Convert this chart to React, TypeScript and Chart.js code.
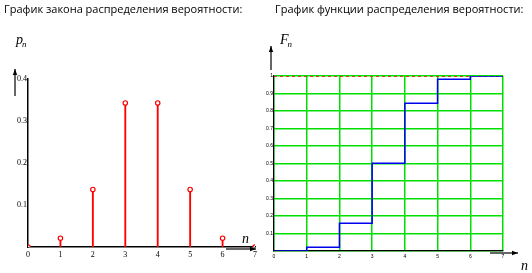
import React, { useEffect, useRef } from 'react';
import { Chart, registerables } from 'chart.js';

Chart.register(...registerables);

// ---- data ----
const nValues = [0, 1, 2, 3, 4, 5, 6, 7];
const xTickLabels = ['0', '1', '2', '3', '4', '5', '6', '7'];
const probabilities = [0, 0.021, 0.137, 0.343, 0.343, 0.137, 0.021, 0];
const cumulative = [0, 0.021, 0.158, 0.501, 0.844, 0.981, 1.0, 1.0];
const leftYTicks = [0.1, 0.2, 0.3, 0.4];
const leftYTickLabels = ['0.1', '0.2', '0.3', '0.4'];
const rightYTicks = [0, 0.1, 0.2, 0.3, 0.4, 0.5, 0.6, 0.7, 0.8, 0.9, 1];
const rightYTickLabels = ['', '0.1', '0.2', '0.3', '0.4', '0.5', '0.6', '0.7', '0.8', '0.9', '1'];
const leftTitle = 'График закона распределения вероятности:';
const rightTitle = 'График функции распределения вероятности:';

const GREEN = '#00e000';
const RED = '#ff0000';
const BLUE = '#0000ee';

function arrow(ctx: CanvasRenderingContext2D, x1: number, y1: number, x2: number, y2: number) {
  ctx.save();
  ctx.strokeStyle = '#000';
  ctx.fillStyle = '#000';
  ctx.lineWidth = 1.2;
  ctx.beginPath();
  ctx.moveTo(x1, y1);
  ctx.lineTo(x2, y2);
  ctx.stroke();
  const a = Math.atan2(y2 - y1, x2 - x1);
  const L = 6, W = 2.2;
  ctx.beginPath();
  ctx.moveTo(x2, y2);
  ctx.lineTo(x2 - L * Math.cos(a) + W * Math.sin(a), y2 - L * Math.sin(a) - W * Math.cos(a));
  ctx.lineTo(x2 - L * Math.cos(a) - W * Math.sin(a), y2 - L * Math.sin(a) + W * Math.cos(a));
  ctx.closePath();
  ctx.fill();
  ctx.restore();
}

function symbol(ctx: CanvasRenderingContext2D, main: string, sub: string, x: number, y: number) {
  ctx.save();
  ctx.fillStyle = '#000';
  ctx.textBaseline = 'alphabetic';
  ctx.font = 'italic 14px "Liberation Serif"';
  ctx.fillText(main, x, y);
  const w = ctx.measureText(main).width;
  if (sub) {
    ctx.font = 'italic 9px "Liberation Serif"';
    ctx.fillText(sub, x + w - 1, y + 3);
  }
  ctx.restore();
}

export default function App() {
  const leftRef = useRef<HTMLCanvasElement>(null);
  const rightRef = useRef<HTMLCanvasElement>(null);

  useEffect(() => {
    document.body.style.margin = '0';
    const leftDeco = {
      id: 'leftDeco',
      afterDraw(chart: any) {
        const ctx = chart.ctx;
        arrow(ctx, 15, 96, 15, 69);
        arrow(ctx, 226, 249, 256, 249);
        symbol(ctx, 'p', 'n', 16, 44);
        symbol(ctx, 'n', '', 242, 243);
      },
    };
    const rightDeco = {
      id: 'rightDeco',
      afterDraw(chart: any) {
        const ctx = chart.ctx;
        arrow(ctx, 5, 70, 5, 46);
        arrow(ctx, 224, 253, 252, 253);
        symbol(ctx, 'F', 'n', 14, 44);
        symbol(ctx, 'n', '', 255, 270);
      },
    };

    const left = new Chart(leftRef.current!, {
      type: 'scatter',
      data: {
        datasets: [
          {
            type: 'scatter',
            data: nValues.map((x, i) => ({ x, y: probabilities[i] })),
            pointStyle: 'circle',
            pointRadius: 2.2,
            pointBorderWidth: 1.2,
            pointBorderColor: RED,
            pointBackgroundColor: '#fff',
            order: 0,
          } as any,
          {
            type: 'bar',
            data: nValues.map((x, i) => ({ x, y: probabilities[i] })),
            backgroundColor: RED,
            barThickness: 1.2,
            order: 1,
          } as any,
        ],
      },
      options: {
        animation: false,
        responsive: false,
        events: [],
        layout: { padding: { left: 8, right: 11, top: 79, bottom: 6 } },
        plugins: { legend: { display: false }, tooltip: { enabled: false } },
        scales: {
          x: {
            type: 'linear',
            min: 0,
            max: 7,
            offset: false,
            grid: { display: false, offset: false, drawTicks: false },
            border: { display: true, color: '#000', width: 1.5 },
            afterFit: (s: any) => { s.height = 20; },
            afterBuildTicks: (s: any) => { s.ticks = nValues.map((v) => ({ value: v })); },
            ticks: {
              padding: 3,
              color: '#000',
              font: { family: '"Liberation Serif"', size: 8 },
              maxRotation: 0,
              autoSkip: false,
              callback: (_v: any, i: number) => xTickLabels[i],
            },
          },
          y: {
            type: 'linear',
            min: 0,
            max: 0.4,
            grid: { display: false, drawTicks: false },
            border: { display: true, color: '#000', width: 1.5 },
            afterFit: (s: any) => { s.width = 20; },
            afterBuildTicks: (s: any) => { s.ticks = leftYTicks.map((v) => ({ value: v })); },
            ticks: {
              padding: 1,
              color: '#000',
              font: { family: '"Liberation Serif"', size: 8 },
              autoSkip: false,
              callback: (_v: any, i: number) => leftYTickLabels[i],
            },
          },
        },
      } as any,
      plugins: [leftDeco],
    });

    const right = new Chart(rightRef.current!, {
      type: 'line',
      data: {
        datasets: [
          {
            data: [{ x: 0, y: 1 }, { x: 7, y: 1 }],
            borderColor: RED,
            borderWidth: 1.5,
            borderDash: [3, 3],
            pointRadius: 0,
            order: 1,
          },
          {
            data: nValues.map((x, i) => ({ x, y: cumulative[i] })),
            borderColor: BLUE,
            borderWidth: 1.5,
            stepped: true,
            pointRadius: 0,
            order: 0,
          },
        ],
      },
      options: {
        animation: false,
        responsive: false,
        events: [],
        layout: { padding: { left: 0, right: 29, top: 76, bottom: 6 } },
        plugins: { legend: { display: false }, tooltip: { enabled: false } },
        scales: {
          x: {
            type: 'linear',
            min: 0,
            max: 7,
            grid: { color: GREEN, lineWidth: 1.5, drawTicks: false },
            border: { display: true, color: '#000', width: 1.2 },
            afterFit: (s: any) => { s.height = 16; },
            afterBuildTicks: (s: any) => { s.ticks = nValues.map((v) => ({ value: v })); },
            ticks: {
              padding: 3,
              color: '#000',
              font: { family: '"Liberation Sans"', size: 5 },
              maxRotation: 0,
              autoSkip: false,
              callback: (_v: any, i: number) => xTickLabels[i],
            },
          },
          y: {
            type: 'linear',
            min: 0,
            max: 1,
            grid: { color: GREEN, lineWidth: 1.5, drawTicks: false },
            border: { display: true, color: '#000', width: 1.2 },
            afterFit: (s: any) => { s.width = 8; },
            afterBuildTicks: (s: any) => { s.ticks = rightYTicks.map((v) => ({ value: v })); },
            ticks: {
              padding: 1,
              color: '#000',
              font: { family: '"Liberation Sans"', size: 5 },
              autoSkip: false,
              callback: (_v: any, i: number) => rightYTickLabels[i],
            },
          },
        },
      } as any,
      plugins: [rightDeco],
    });

    return () => {
      left.destroy();
      right.destroy();
    };
  }, []);

  const titleStyle: React.CSSProperties = {
    position: 'absolute',
    top: 2,
    fontFamily: '"Open Sans", "Noto Sans", sans-serif',
    fontSize: 11,
    lineHeight: '14px',
    color: '#000',
    whiteSpace: 'nowrap',
  };

  return (
    <div style={{ position: 'relative', width: 532, height: 273, background: '#fff', overflow: 'hidden' }}>
      <canvas ref={leftRef} width={266} height={273} style={{ position: 'absolute', left: 0, top: 0, width: 266, height: 273 }} />
      <canvas ref={rightRef} width={266} height={273} style={{ position: 'absolute', left: 266, top: 0, width: 266, height: 273 }} />
      <div style={{ ...titleStyle, left: 4 }}>{leftTitle}</div>
      <div style={{ ...titleStyle, left: 275 }}>{rightTitle}</div>
    </div>
  );
}
